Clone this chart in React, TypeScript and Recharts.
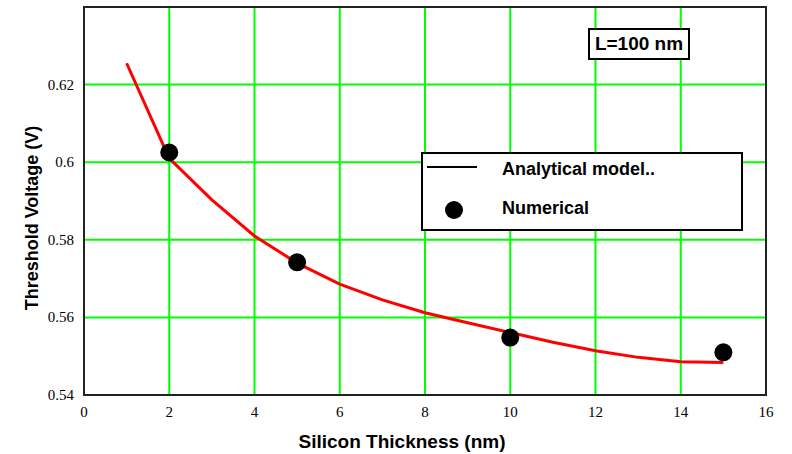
import { ComposedChart, Line, Scatter, XAxis, YAxis, CartesianGrid, ReferenceArea } from 'recharts';

const thickness = [1, 2, 3, 4, 5, 6, 7, 8, 9, 10, 11, 12, 13, 14, 15];
const analyticalVt = [0.6255, 0.601, 0.5903, 0.581, 0.574, 0.5686, 0.5645, 0.5612, 0.5586, 0.5561, 0.5536, 0.5514, 0.5497, 0.5486, 0.5484];

const numThickness = [2, 5, 10, 15];
const numericalVt = [0.6025, 0.5742, 0.5548, 0.551];

const xTicks = [0, 2, 4, 6, 8, 10, 12, 14, 16];
const yTicks = [0.54, 0.56, 0.58, 0.6, 0.62];

const analytical = thickness.map((t, i) => ({ t, vt: analyticalVt[i] }));
const numerical = numThickness.map((t, i) => ({ t, vt: numericalVt[i] }));

const serif = "'Liberation Serif', 'Times New Roman', serif";
const boldFont = '"Liberation Sans", Arial, sans-serif';

const XTick = (props: any) => (
  <text x={props.x} y={props.y + 14} textAnchor="middle" style={{ fontFamily: serif, fontSize: 15 }} fill="#000">
    {props.payload.value}
  </text>
);

const YTick = (props: any) => (
  <text x={props.x - 2} y={props.y + 5} textAnchor="end" style={{ fontFamily: serif, fontSize: 15 }} fill="#000">
    {String(props.payload.value)}
  </text>
);

const Dot = (props: any) => <circle cx={props.cx} cy={props.cy} r={9} fill="#000" />;

export default function App() {
  return (
    <div style={{ position: 'absolute', left: 0, top: 0, width: 792, height: 454, background: '#fff' }}>
      <ComposedChart width={792} height={454} margin={{ top: 7, right: 26, bottom: 0, left: 0 }}>
        <CartesianGrid stroke="#00ff00" strokeWidth={2} horizontalValues={yTicks} verticalValues={xTicks} />
        <XAxis
          type="number"
          dataKey="t"
          domain={[0, 16]}
          ticks={xTicks}
          height={59}
          tick={XTick}
          tickLine={false}
          axisLine={false}
          allowDataOverflow
        />
        <YAxis
          type="number"
          dataKey="vt"
          domain={[0.54, 0.64]}
          ticks={yTicks}
          width={84}
          tick={YTick}
          tickLine={false}
          axisLine={false}
          allowDataOverflow
        />
        <ReferenceArea x1={0} x2={16} y1={0.54} y2={0.64} fill="none" stroke="#222" strokeWidth={2} ifOverflow="visible" />
        <Line
          data={analytical}
          dataKey="vt"
          type="linear"
          stroke="#ff0000"
          strokeWidth={3}
          dot={false}
          isAnimationActive={false}
        />
        <Scatter data={numerical} dataKey="vt" shape={Dot} isAnimationActive={false} />
      </ComposedChart>

      {/* axis titles */}
      <div
        style={{
          position: 'absolute', left: 32, top: 218, transform: 'translate(-50%, -50%) rotate(-90deg)',
          fontFamily: boldFont, fontWeight: 'bold', fontSize: 18, whiteSpace: 'nowrap', lineHeight: 1,
        }}
      >
        Threshold Voltage (V)
      </div>
      <div
        style={{
          position: 'absolute', left: 402, top: 441, transform: 'translate(-50%, -50%)',
          fontFamily: boldFont, fontWeight: 'bold', fontSize: 19, whiteSpace: 'nowrap', lineHeight: 1,
        }}
      >
        Silicon Thickness (nm)
      </div>

      {/* L=100 nm note */}
      <div
        style={{
          position: 'absolute', left: 588, top: 28, width: 98, height: 28, border: '2px solid #000',
          background: '#fff', fontFamily: boldFont, fontWeight: 'bold', fontSize: 19,
          display: 'flex', alignItems: 'center', justifyContent: 'center',
        }}
      >
        L=100 nm
      </div>

      {/* legend */}
      <div
        style={{
          position: 'absolute', left: 421, top: 152, width: 318, height: 75, border: '2px solid #000',
          background: '#fff', fontFamily: boldFont, fontWeight: 'bold', fontSize: 18, lineHeight: 1,
        }}
      >
        <div style={{ position: 'absolute', left: 4, top: 12, width: 50, height: 2, background: '#000' }} />
        <div style={{ position: 'absolute', left: 79, top: 6 }}>Analytical model..</div>
        <div style={{ position: 'absolute', left: 22, top: 47, width: 18, height: 18, borderRadius: 9, background: '#000' }} />
        <div style={{ position: 'absolute', left: 79, top: 45 }}>Numerical</div>
      </div>
    </div>
  );
}
